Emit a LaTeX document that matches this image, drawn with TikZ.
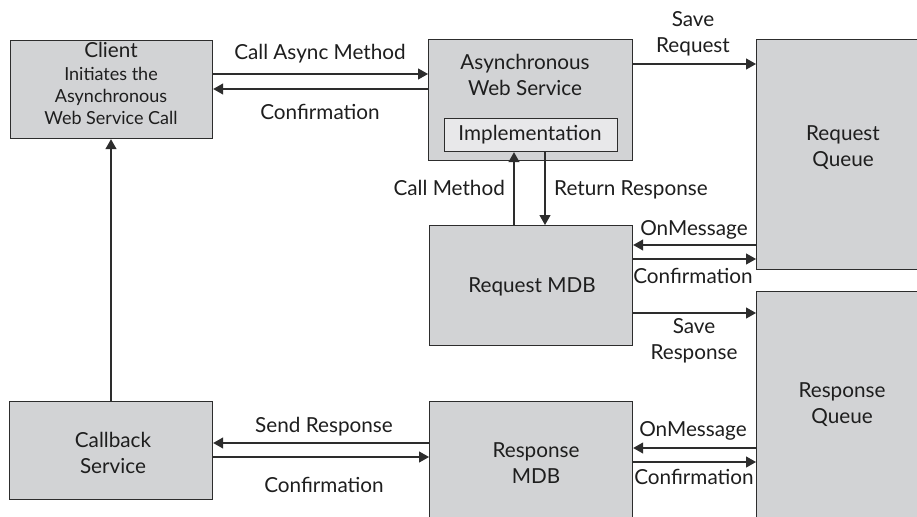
\documentclass[tikz,border=0pt]{standalone}
\usepackage{fontspec}
\setmainfont{Lato}
\usetikzlibrary{arrows.meta}
\definecolor{boxgray}{RGB}{210,211,213}
\definecolor{implgray}{RGB}{232,232,234}
\definecolor{edge}{RGB}{45,45,45}
\definecolor{ink}{RGB}{30,30,30}
\newcommand{\ml}[1]{\begin{tabular}[t]{@{}c@{}}#1\end{tabular}}
\tikzset{
  box/.style={draw=edge, fill=boxgray, line width=1.2pt, anchor=north west, inner sep=0pt},
  implbox/.style={draw=edge, fill=implgray, line width=1.2pt, anchor=north west, inner sep=0pt},
  arr/.style={draw=edge, line width=1.2pt, -{Triangle[length=10pt,width=11pt]}},
  txt/.style={text=ink, inner sep=0pt, anchor=base, font=\fontsize{20.7}{26}\selectfont},
  smalltxt/.style={text=ink, inner sep=0pt, anchor=base, font=\fontsize{18}{22}\selectfont},
}
\begin{document}
\begin{tikzpicture}[x=1pt,y=-1pt]
\useasboundingbox (0,0) rectangle (917,516);
\clip (0,0) rectangle (917,516);
\fill[white] (0,0) rectangle (917,516);
% boxes
\node[box, minimum width=202pt, minimum height=98pt] (client) at (10,40) {};
\node[box, minimum width=204pt, minimum height=121pt] (aws) at (428,39) {};
\node[implbox, minimum width=173pt, minimum height=33pt] (impl) at (444,118) {};
\node[box, minimum width=180pt, minimum height=230pt] (rq) at (756,39) {};
\node[box, minimum width=203pt, minimum height=120pt] (rmdb) at (429,225) {};
\node[box, minimum width=180pt, minimum height=240pt] (resq) at (756,291) {};
\node[box, minimum width=203pt, minimum height=130pt] (resmdb) at (429,401) {};
\node[box, minimum width=203pt, minimum height=98pt] (cb) at (9,401) {};
% box texts
\node[txt] (clientT) at (111,58) {Client};
\node[smalltxt] (clientS) at (111,81) {\ml{Initiates the\\Asynchronous\\Web Service Call}};
\node[txt] (awsT) at (525,70) {\ml{Asynchronous\\Web Service}};
\node[txt] (implT) at (530,140) {Implementation};
\node[txt] (rqT) at (843,140) {\ml{Request\\Queue}};
\node[txt] (rmdbT) at (532,292) {Request MDB};
\node[txt] (resqT) at (842,397) {\ml{Response\\Queue}};
\node[txt] (resmdbT) at (536,457) {\ml{Response\\MDB}};
\node[txt] (cbT) at (113,447) {\ml{Callback\\Service}};
% connectors
\draw[arr] (client.east |- 0,74) -- (aws.west |- 0,74);
\draw[arr] (aws.west |- 0,89) -- (client.east |- 0,89);
\draw[arr] (aws.east |- 0,64) -- (rq.west |- 0,64);
\draw[arr] (rmdb.north -| 514,0) -- (impl.south -| 514,0);
\draw[arr] (impl.south -| 545,0) -- (rmdb.north -| 545,0);
\draw[arr] (rq.west |- 0,245) -- (rmdb.east |- 0,245);
\draw[arr] (rmdb.east |- 0,259) -- (rq.west |- 0,259);
\draw[arr] (rmdb.east |- 0,313) -- (resq.west |- 0,313);
\draw[arr] (resq.west |- 0,448) -- (resmdb.east |- 0,448);
\draw[arr] (resmdb.east |- 0,462) -- (resq.west |- 0,462);
\draw[arr] (resmdb.west |- 0,443) -- (cb.east |- 0,443);
\draw[arr] (cb.east |- 0,457) -- (resmdb.west |- 0,457);
\draw[arr] (cb.north -| 111,0) -- (client.south -| 111,0);
% labels
\node[txt] (l1) at (320,60) {Call Async Method};
\node[txt] (l2) at (320,120) {Confirmation};
\node[txt] (l3) at (693,27) {\ml{Save\\Request}};
\node[txt, anchor=base east] (l4) at (505,195) {Call Method};
\node[txt, anchor=base west] (l5) at (554,195) {Return Response};
\node[txt] (l6) at (694,235) {OnMessage};
\node[txt] (l7) at (693,283) {Confirmation};
\node[txt] (l8) at (694,333) {\ml{Save\\Response}};
\node[txt] (l9) at (324,432) {Send Response};
\node[txt] (l10) at (324,492) {Confirmation};
\node[txt] (l11) at (693,436) {OnMessage};
\node[txt] (l12) at (694,484) {Confirmation};
\end{tikzpicture}
\end{document}
